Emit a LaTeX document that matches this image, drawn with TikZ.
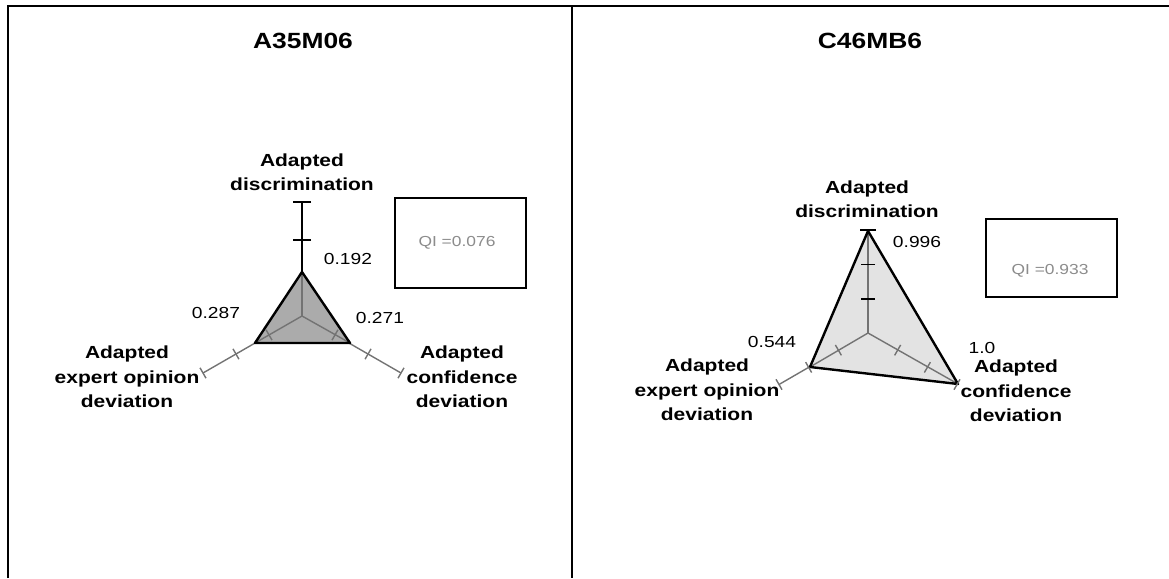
\documentclass[tikz,border=0pt]{standalone}
\usepackage{fontspec}
\setmainfont{Liberation Sans}[FakeStretch=1.2]
\usetikzlibrary{calc}
\newcommand\axtick[5]{%
  \path ($(#1)!#3!(#2)$) coordinate (tk);
  \draw[#5] ($(tk)!#4!90:(#1)$) -- ($(tk)!#4!-90:(#1)$);}
\begin{document}
\begin{tikzpicture}[x=1pt,y=-1pt,
  frame/.style={line width=2pt,black},
  title/.style={font=\fontsize{22}{26}\selectfont\bfseries},
  axlabel/.style={font=\fontsize{17.5}{24.5}\selectfont\bfseries,align=center},
  val/.style={font=\fontsize{16}{19}\selectfont},
  qibox/.style={draw=black,line width=2.5pt,fill=white},
  qitext/.style={font=\fontsize{14.5}{17}\selectfont,text=black!45},
  axgrey/.style={draw=black!55,line width=1.4pt},
  axblack/.style={draw=black,line width=1.6pt},
  outline/.style={draw=black,line width=2.4pt,line join=round}]
\useasboundingbox (0,0) rectangle (1169,578);
% frame
\coordinate (tl) at (8,6); \coordinate (tr) at (1169,6);
\coordinate (bl) at (8,578); \coordinate (tm) at (572,6); \coordinate (bm) at (572,578);
\draw[frame] (bl) -- (tl) -- (tr);
\draw[frame] (tm) -- (bm);
% titles
\node[title] (t1) at (303,41) {A35M06};
\node[title] (t2) at (870,41) {C46MB6};

% ---------- left chart ----------
\coordinate (c1) at (302,316);
\coordinate (e1t) at (302,202);
\coordinate (e1l) at (203,373);
\coordinate (e1r) at (401,373);
\coordinate (v1t) at (302,272);
\coordinate (v1l) at (255,343);
\coordinate (v1r) at (350,343);
\draw[axgrey] (c1) -- (e1l);
\draw[axgrey] (c1) -- (e1r);
\fill[black!33] (v1t) -- (v1l) -- (v1r) -- cycle;
\draw[axgrey] (c1) -- (v1t);
\draw[axgrey] (c1) -- (v1l);
\draw[axgrey] (c1) -- (v1r);
\draw[outline] (v1t) -- (v1l) -- (v1r) -- cycle;
\draw[axblack] (v1t) -- (e1t);
\axtick{c1}{e1t}{0.667}{9pt}{axblack}
\axtick{c1}{e1t}{1}{9pt}{axblack}
\axtick{c1}{e1l}{0.333}{6pt}{axgrey}
\axtick{c1}{e1l}{0.667}{6pt}{axgrey}
\axtick{c1}{e1l}{1}{6pt}{axgrey}
\axtick{c1}{e1r}{0.333}{6pt}{axgrey}
\axtick{c1}{e1r}{0.667}{6pt}{axgrey}
\axtick{c1}{e1r}{1}{6pt}{axgrey}
\node[axlabel] (l1t) at (302,172) {Adapted\\discrimination};
\node[axlabel] (l1l) at (127,377) {Adapted\\expert opinion\\deviation};
\node[axlabel] (l1r) at (462,377) {Adapted\\confidence\\deviation};
\node[val] (n1t) at (348,259) {0.192};
\node[val] (n1l) at (216,313) {0.287};
\node[val] (n1r) at (380,318) {0.271};
\node[qibox,minimum width=131pt,minimum height=90pt] (q1) at (460.5,243) {};
\node[qitext] (q1t) at (457,243) {QI =0.076};

% ---------- right chart ----------
\coordinate (c2) at (868,333);
\coordinate (e2t) at (868,230);
\coordinate (e2l) at (779,384.5);
\coordinate (e2r) at (957,384.5);
\coordinate (v2t) at (868,231);
\coordinate (v2l) at (810,367);
\coordinate (v2r) at (958,384);
\draw[axgrey] (c2) -- (e2l);
\fill[black!11] (v2t) -- (v2l) -- (v2r) -- cycle;
\draw[axgrey] (c2) -- (v2t);
\draw[axgrey] (c2) -- (v2l);
\draw[axgrey] (c2) -- (v2r);
\draw[outline] (v2t) -- (v2l) -- (v2r) -- cycle;
\axtick{c2}{e2t}{0.333}{7pt}{axblack}
\axtick{c2}{e2t}{0.667}{7pt}{axblack}
\axtick{c2}{e2t}{1}{8pt}{axblack}
\axtick{c2}{e2l}{0.333}{6pt}{axgrey}
\axtick{c2}{e2l}{0.667}{6pt}{axgrey}
\axtick{c2}{e2l}{1}{6pt}{axgrey}
\axtick{c2}{e2r}{0.333}{6pt}{axgrey}
\axtick{c2}{e2r}{0.667}{6pt}{axgrey}
\axtick{c2}{e2r}{1}{6pt}{axgrey}
\node[axlabel] (l2t) at (867,199) {Adapted\\discrimination};
\node[axlabel] (l2l) at (707,390) {Adapted\\expert opinion\\deviation};
\node[axlabel] (l2r) at (1016,391) {Adapted\\confidence\\deviation};
\node[val,inner sep=1pt] (n2t) at (917,242) {0.996};
\node[val,inner sep=1pt] (n2l) at (772,342) {0.544};
\node[val,inner sep=0.5pt] (n2r) at (982,348) {1.0};
\node[qibox,minimum width=131pt,minimum height=78pt] (q2) at (1051.5,258) {};
\node[qitext] (q2t) at (1050,271) {QI =0.933};
\end{tikzpicture}
\end{document}
